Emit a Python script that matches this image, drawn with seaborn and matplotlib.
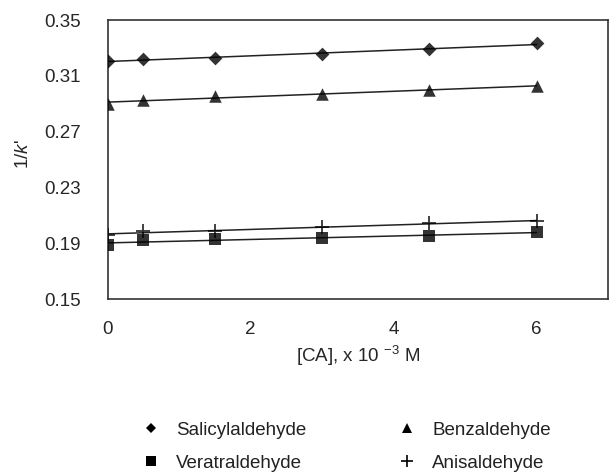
import matplotlib
matplotlib.use("Agg")
import matplotlib.pyplot as plt
import seaborn as sns
import pandas as pd
from matplotlib.lines import Line2D

# datos
conc = [0, 0.5, 1.5, 3, 4.5, 6]
salicyl = [0.3205, 0.3217, 0.3231, 0.3255, 0.3289, 0.3332]
benzal = [0.2896, 0.2929, 0.2953, 0.2968, 0.2996, 0.3027]
veratral = [0.1886, 0.1922, 0.1927, 0.1939, 0.1953, 0.1977]
anisal = [0.1960, 0.1986, 0.1986, 0.2013, 0.2042, 0.2061]

names = ["Salicylaldehyde", "Benzaldehyde", "Veratraldehyde", "Anisaldehyde"]
series = [salicyl, benzal, veratral, anisal]
markers = ["D", "^", "s", "+"]
msizes = [7, 9, 8, 10]
leg_sizes = [5.5, 7, 7, 9]

sns.set_style("white")
plt.rcParams['font.family'] = ['Liberation Sans', 'DejaVu Sans']
plt.rcParams['mathtext.fontset'] = 'custom'
plt.rcParams['mathtext.rm'] = 'Liberation Sans'
plt.rcParams['mathtext.it'] = 'Liberation Sans:italic'

FS = 13.5

fig = plt.figure(figsize=(6.09, 4.72), dpi=100)
ax = fig.add_axes([107.5 / 609, 1 - 299 / 472, (608 - 107.5) / 609, (299 - 20) / 472])

for name, vals, m, ms in zip(names, series, markers, msizes):
    df = pd.DataFrame({"x": conc, "y": vals})
    sns.regplot(data=df, x="x", y="y", ax=ax, ci=None, color="black", marker=m,
                scatter_kws={"s": ms ** 2, "linewidths": 1.3 if m == "+" else 0, "zorder": 3},
                line_kws={"lw": 1.1, "color": "#222222"})

ax.set_xlim(0, 7)
ax.set_ylim(0.15, 0.35)
ax.set_xticks([0, 2, 4, 6])
ax.set_yticks([0.15, 0.19, 0.23, 0.27, 0.31, 0.35])
ax.set_yticklabels(["0.15", "0.19", "0.23", "0.27", "0.31", "0.35"])
ax.tick_params(axis="x", direction="out", length=5, width=1, color="#333333", labelsize=FS, pad=11)
ax.tick_params(axis="y", length=0, labelsize=FS, pad=19)
for sp in ax.spines.values():
    sp.set_color("#333333")
    sp.set_linewidth(1.2)
ax.set_xlabel("[CA], x 10 $^{-3}$ M", fontsize=FS, labelpad=4)
ax.set_ylabel("1/$k$'", fontsize=FS, labelpad=11)
ax.yaxis.set_label_coords(-0.15, 0.52)

handles = []
for i in [0, 2, 1, 3]:
    handles.append(Line2D([], [], ls="none", marker=markers[i], color="black",
                          markersize=leg_sizes[i], markeredgewidth=1.2 if markers[i] == "+" else 0,
                          label=names[i]))
fig.legend(handles=handles, ncol=2, frameon=False, fontsize=FS, labelcolor="#222222",
           loc="upper left", bbox_to_anchor=(134 / 609, 1 - 414 / 472), borderaxespad=0,
           columnspacing=4.9, handletextpad=0.83, labelspacing=0.86, handlelength=1.0)

fig.savefig("out.png", dpi=100)
